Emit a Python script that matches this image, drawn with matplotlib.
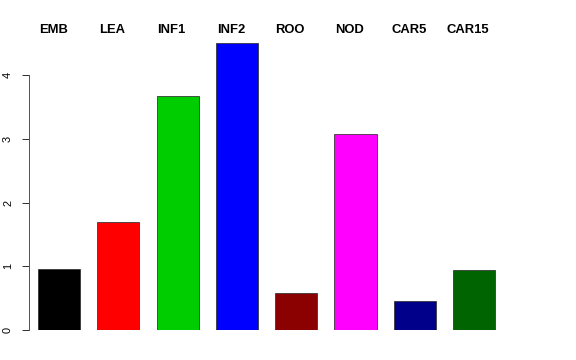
import matplotlib
matplotlib.use("Agg")
import matplotlib.pyplot as plt
import numpy as np

categories = ["EMB", "LEA", "INF1", "INF2", "ROO", "NOD", "CAR5", "CAR15"]
values = [0.96, 1.69, 3.67, 4.50, 0.58, 3.07, 0.45, 0.94]
colors = ["#000000", "#FF0000", "#00CD00", "#0000FF", "#8B0000", "#FF00FF", "#00008B", "#006400"]
yticks = [0, 1, 2, 3, 4]

W, H = 576, 360
fig = plt.figure(figsize=(W / 72, H / 72), dpi=72)

# pixel geometry
px_per_unit_x = 59.3
x0_px = 59.0            # center of first bar
ax_left_px, ax_right_px = 29.0, 540.0
y0_px = 330.0
px_per_unit_y = 63.75
ymax = 4.75
ax_top_px = y0_px - ymax * px_per_unit_y

ax = fig.add_axes([ax_left_px / W, (H - y0_px) / H,
                   (ax_right_px - ax_left_px) / W, (y0_px - ax_top_px) / H])
ax.set_xlim((ax_left_px - x0_px) / px_per_unit_x, (ax_right_px - x0_px) / px_per_unit_x)
ax.set_ylim(0, ymax)

x = np.arange(len(categories))
ax.bar(x, values, width=0.71, color=colors, edgecolor="#333333", linewidth=0.8)

for xi, lab in zip(x, categories):
    ax.text(xi - 0.1, 4.71, lab, ha="center", va="center", fontsize=13,
            fontweight="bold", family="Liberation Sans", clip_on=False)

for s in ["top", "right", "bottom"]:
    ax.spines[s].set_visible(False)
ax.spines["left"].set_bounds(0, 4)
ax.spines["left"].set_color("#555555")
ax.spines["left"].set_linewidth(1.0)
ax.set_xticks([])
ax.set_yticks(yticks)
ax.set_yticklabels([str(t) for t in yticks], rotation=90, va="center",
                   family="Liberation Sans", fontsize=11)
ax.tick_params(axis="y", length=7, width=1.0, color="#333333", pad=9)

fig.savefig("out.png", dpi=72)
